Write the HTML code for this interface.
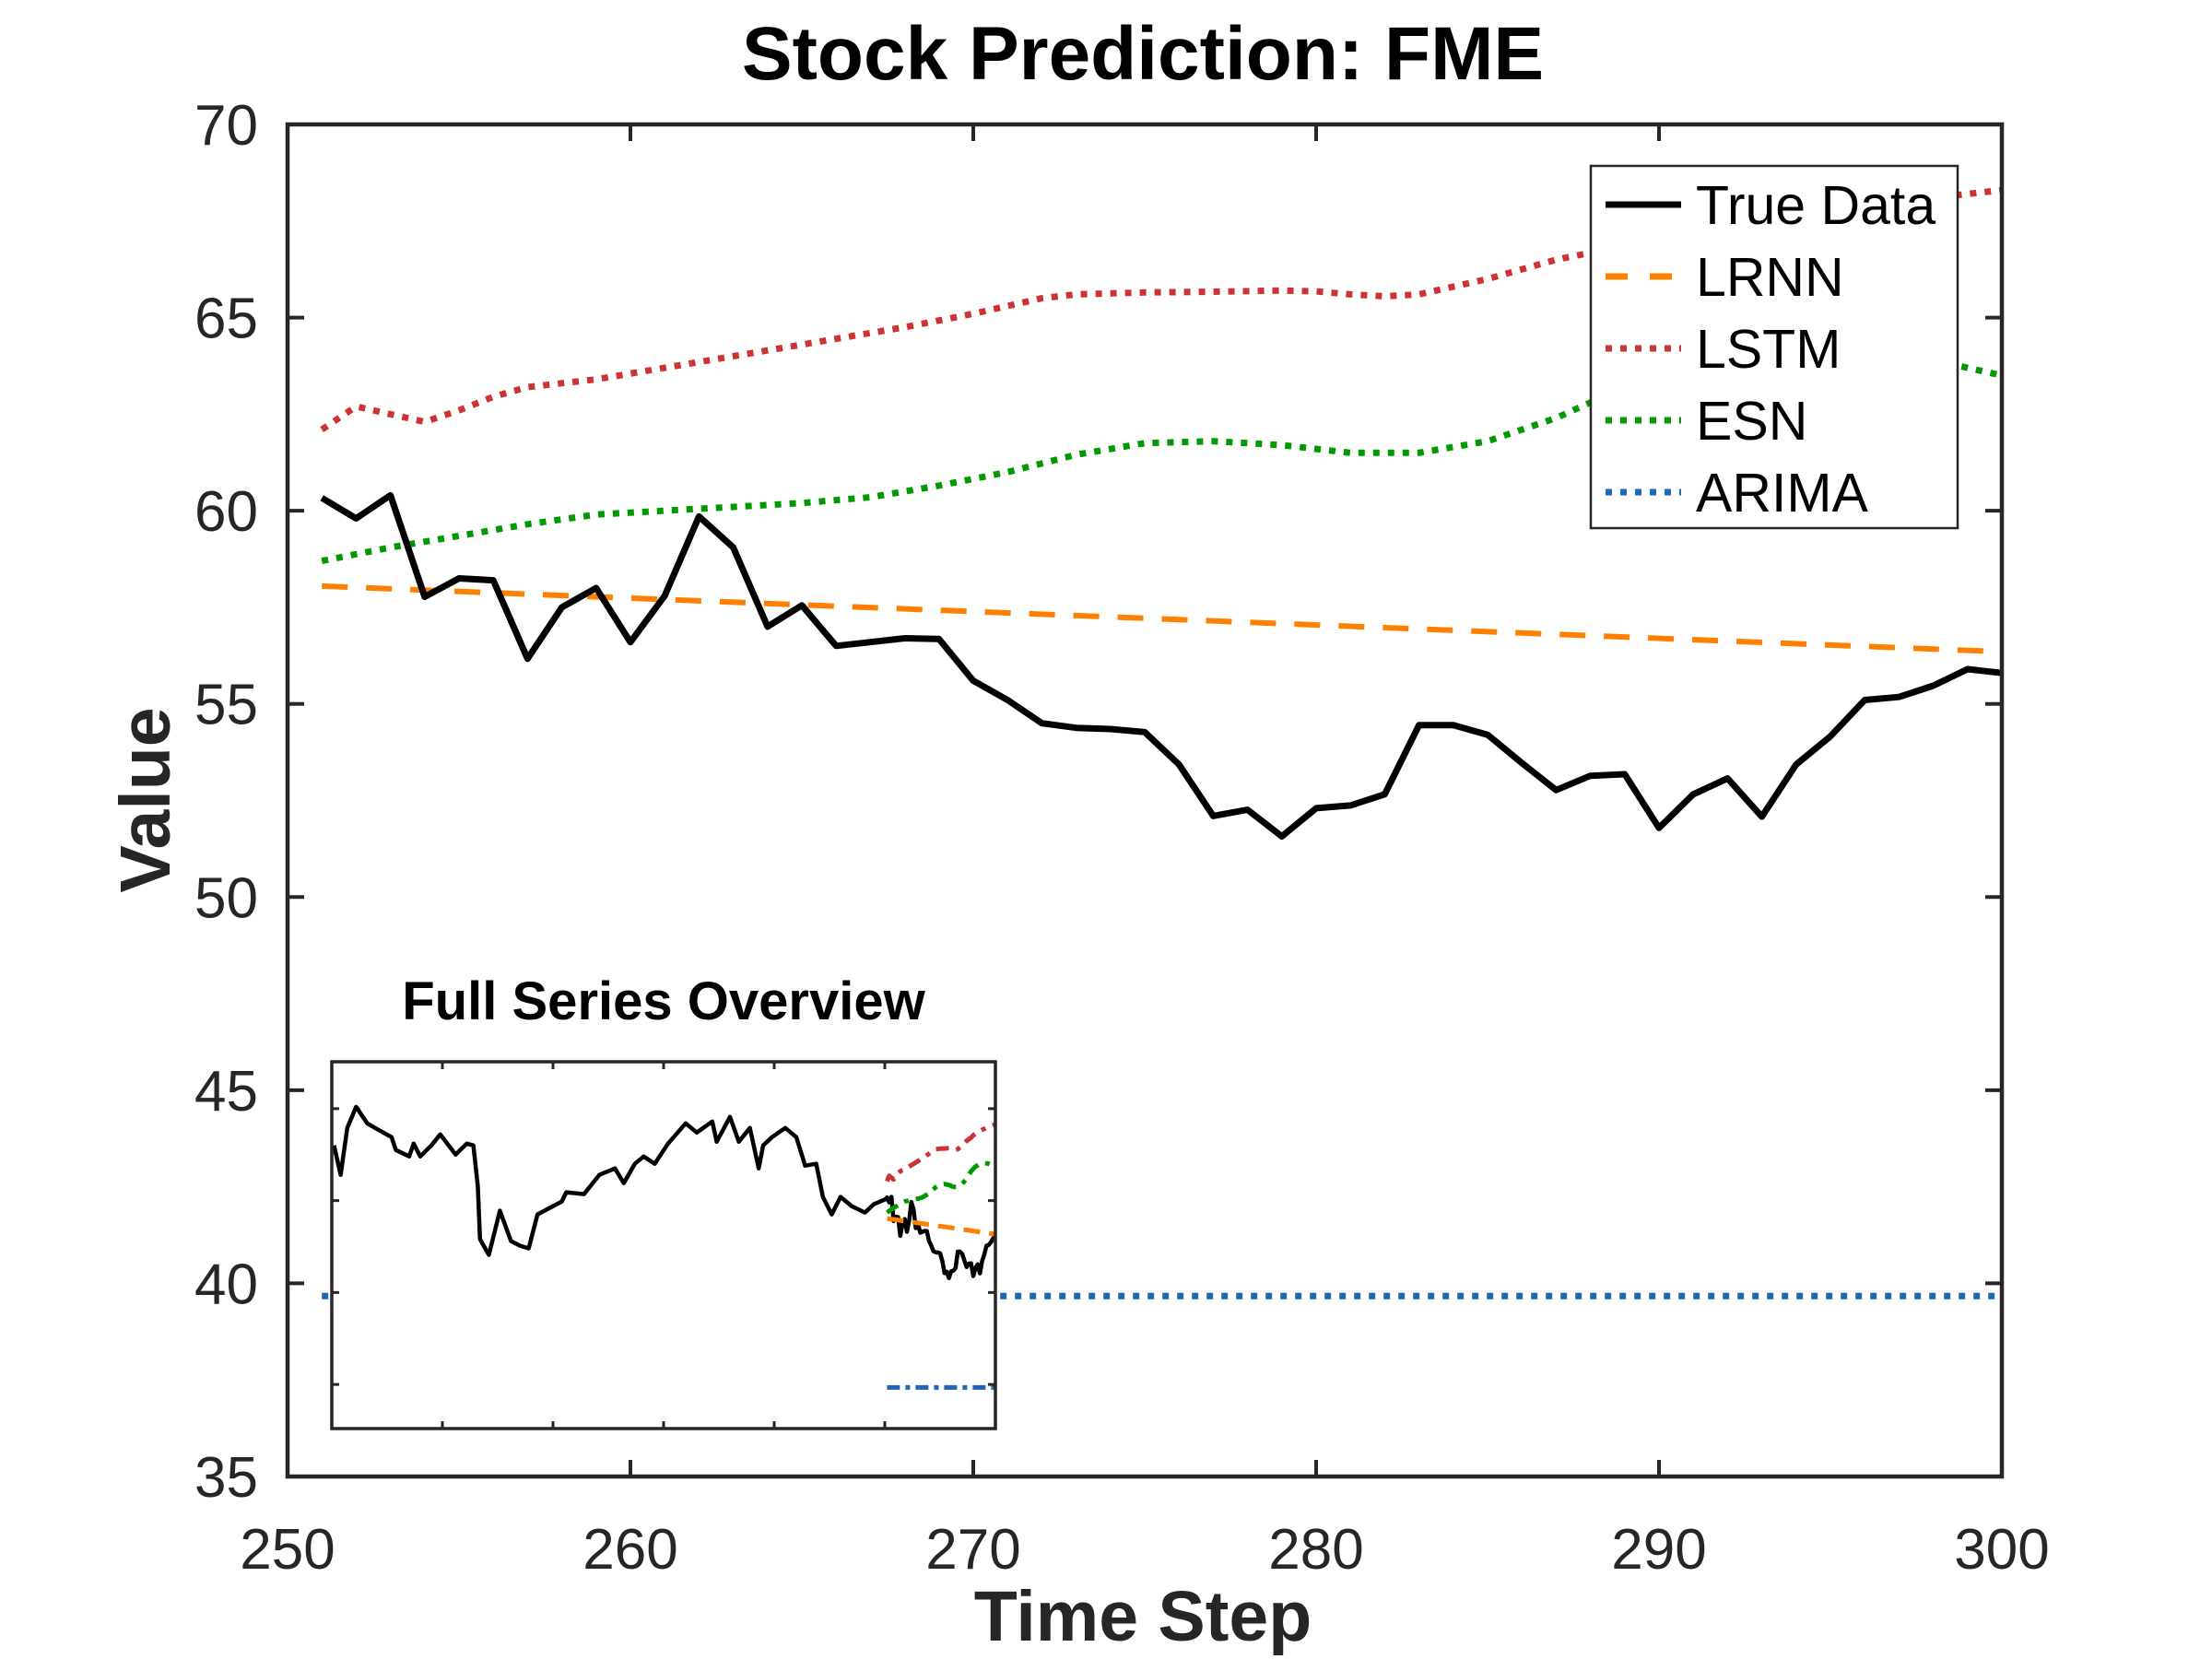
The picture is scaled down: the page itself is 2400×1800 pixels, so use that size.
<!DOCTYPE html>
<html><head><meta charset="utf-8"><style>
html,body{margin:0;padding:0;background:#fff;}
svg{display:block;font-family:"Liberation Sans",Arial,sans-serif;}
</style></head><body>
<svg id="chart" width="2400" height="1800" viewBox="0 0 2400 1800" xmlns="http://www.w3.org/2000/svg">
<rect width="2400" height="1800" fill="#fff"/>
<g id="main"></g>
</svg>
<script>
// ---- data ----
const trueX = [251,252,253,254,255,256,257,258,259,260,261,262,263,264,265,266,267,268,269,270,271,272,273,274,275,276,277,278,279,280,281,282,283,284,285,286,287,288,289,290,291,292,293,294,295,296,297,298,299,300];
const trueVals = [60.33,59.8,60.4,57.77,58.25,58.2,56.17,57.5,58.0,56.6,57.8,59.85,59.05,57.0,57.55,56.5,56.6,56.7,56.68,55.6,55.1,54.5,54.38,54.35,54.27,53.43,52.1,52.26,51.57,52.3,52.37,52.66,54.45,54.45,54.2,53.47,52.77,53.14,53.18,51.79,52.66,53.07,52.08,53.43,54.16,55.1,55.18,55.47,55.9,55.8];
const lrnnX = [251,300];
const lrnnVals = [58.05,56.35];
const lstmX = [251,252,253,254,255,256,257,258,259,260,262,264,266,268,270,272,273,275,277,279,280,281,282,283,285,287,289,290,292,294,296,298,300];
const lstmVals = [62.1,62.7,62.5,62.3,62.6,62.95,63.2,63.3,63.4,63.55,63.85,64.15,64.45,64.75,65.1,65.5,65.6,65.65,65.67,65.7,65.68,65.6,65.55,65.6,66.0,66.5,66.85,67.1,67.4,67.7,67.9,68.1,68.3];
const esnX = [251,253,255,257,259,261,263,265,267,269,271,273,275,277,279,281,283,285,287,289,291,293,295,297,298,300];
const esnVals = [58.7,59.05,59.35,59.65,59.9,60.0,60.1,60.2,60.35,60.65,61.0,61.45,61.75,61.8,61.7,61.5,61.5,61.8,62.4,63.2,63.7,64.0,64.1,64.0,63.9,63.5];
const arimaX = [251,300];
const arimaVals = [39.67,39.67];
// full history (overview inset)
const histX = [1,4,7,11,16,21,27,29,35,37,40,45,49,56,61,64,66,67,71,76,81,85,89,93,104,106,114,121,128,132,137,141,146,152,160,165,172,174,180,184,189,193,195,199,205,210,214,219,222,226,230,235,241,245,250];
const histVals = [66.0,62.8,67.9,70.2,68.4,67.7,66.9,65.5,64.8,66.2,64.8,66.0,67.2,65.0,66.2,66.0,61.6,55.8,54.1,58.9,55.6,55.1,54.8,58.5,59.9,60.9,60.7,62.8,63.5,61.9,64.0,64.8,64.0,66.2,68.4,67.4,68.6,66.4,69.1,66.4,67.9,63.5,66.0,66.9,67.9,66.9,63.8,64.0,60.4,58.5,60.4,59.4,58.7,59.6,60.1];
const xTicks = [250,260,270,280,290,300];
const yTicks = [35,40,45,50,55,60,65,70];
const insetXTicks = [50,100,150,200,250];
const insetYTicks = [40,50,60,70];

// ---- axes ----
const L=312,R=2172,T=135,B=1602;
const xMin=250,xMax=300,yMin=35,yMax=70;
const sx=v=>L+(v-xMin)/(xMax-xMin)*(R-L);
const sy=v=>B-(v-yMin)/(yMax-yMin)*(B-T);
const IL=360,IR=1080,IT=1152,IB=1550;
const ixMin=0,ixMax=300,iyMin=35.2,iyMax=75.1;
const isx=v=>IL+(v-ixMin)/(ixMax-ixMin)*(IR-IL);
const isy=v=>IB-(v-iyMin)/(iyMax-iyMin)*(IB-IT);

const NS="http://www.w3.org/2000/svg";
const root=document.getElementById('main');
function mk(tag,attrs,parent){const e=document.createElementNS(NS,tag);for(const k in attrs)e.setAttribute(k,attrs[k]);(parent||root).appendChild(e);return e;}
function pts(xs,ys,fx,fy){return xs.map((x,i)=>fx(x).toFixed(1)+','+fy(ys[i]).toFixed(1)).join(' ');}

const AX='#262626';
const defs=mk('defs',{});
const cp=mk('clipPath',{id:'mainclip'},defs);
mk('rect',{x:L,y:T,width:R-L,height:B-T},cp);

const series=[
 {name:'arima-line',xs:arimaX,ys:arimaVals,color:'#1f66b5',dash:'7 9',w:7},
 {name:'esn-line',xs:esnX,ys:esnVals,color:'#009900',dash:'7 9',w:7},
 {name:'lstm-line',xs:lstmX,ys:lstmVals,color:'#cc3333',dash:'7 9',w:7},
 {name:'lrnn-line',xs:lrnnX,ys:lrnnVals,color:'#ff8000',dash:'28 20',w:6},
 {name:'true-data-line',xs:trueX,ys:trueVals,color:'#000',dash:'',w:7}
];
const g=mk('g',{'clip-path':'url(#mainclip)'});
series.forEach(s=>{
 const p=mk('polyline',{points:pts(s.xs,s.ys,sx,sy),fill:'none',stroke:s.color,'stroke-width':s.w,'stroke-dasharray':s.dash,'stroke-linejoin':'round'},g);
 
 
});

const box=mk('rect',{x:L,y:T,width:R-L,height:B-T,fill:'none',stroke:AX,'stroke-width':4.5});


xTicks.forEach(v=>{
 const x=sx(v);
 mk('line',{x1:x,y1:B,x2:x,y2:B-18,stroke:AX,'stroke-width':4});
 mk('line',{x1:x,y1:T,x2:x,y2:T+18,stroke:AX,'stroke-width':4});
 const t=mk('text',{x:x,y:1702,'text-anchor':'middle','font-size':62,fill:AX});
 t.textContent=v;
 
 
});
yTicks.forEach(v=>{
 const y=sy(v);
 mk('line',{x1:L,y1:y,x2:L+18,y2:y,stroke:AX,'stroke-width':4});
 mk('line',{x1:R,y1:y,x2:R-18,y2:y,stroke:AX,'stroke-width':4});
 const t=mk('text',{x:280,y:y+22,'text-anchor':'end','font-size':62,fill:AX});
 t.textContent=v;
 
 
});

// inset
const ig=mk('g',{});


mk('rect',{x:IL,y:IT,width:IR-IL,height:IB-IT,fill:'#fff'},ig);
const icp=mk('clipPath',{id:'insetclip'},defs);
mk('rect',{x:IL,y:IT,width:IR-IL,height:IB-IT},icp);
const ig2=mk('g',{'clip-path':'url(#insetclip)'},ig);
const hx=histX.concat(trueX), hv=histVals.concat(trueVals);
const insetSeries=[
 {name:'inset-true-data',xs:hx,ys:hv,color:'#000',dash:'',w:4.5},
 {name:'inset-lrnn',xs:lrnnX,ys:lrnnVals,color:'#ff8000',dash:'18 10',w:5},
 {name:'inset-lstm',xs:lstmX,ys:lstmVals,color:'#cc3333',dash:'14 8 5 8',w:5},
 {name:'inset-esn',xs:esnX,ys:esnVals,color:'#009900',dash:'14 8 5 8',w:5},
 {name:'inset-arima',xs:arimaX,ys:arimaVals,color:'#1f66b5',dash:'14 6 5 6',w:5}
];
insetSeries.forEach(s=>{
 const p=mk('polyline',{points:pts(s.xs,s.ys,isx,isy),fill:'none',stroke:s.color,'stroke-width':s.w,'stroke-dasharray':s.dash,'stroke-linejoin':'round'},ig2);
 
 
});
mk('rect',{x:IL,y:IT,width:IR-IL,height:IB-IT,fill:'none',stroke:AX,'stroke-width':3.5},ig);
insetXTicks.forEach(v=>{const x=isx(v);
 mk('line',{x1:x,y1:IB,x2:x,y2:IB-8,stroke:AX,'stroke-width':3},ig);
 mk('line',{x1:x,y1:IT,x2:x,y2:IT+8,stroke:AX,'stroke-width':3},ig);});
insetYTicks.forEach(v=>{const y=isy(v);
 mk('line',{x1:IL,y1:y,x2:IL+8,y2:y,stroke:AX,'stroke-width':3},ig);
 mk('line',{x1:IR,y1:y,x2:IR-8,y2:y,stroke:AX,'stroke-width':3},ig);});
const it=mk('text',{x:720,y:1106,'text-anchor':'middle','font-size':58,'font-weight':'bold',fill:'#000'},ig);
it.textContent='Full Series Overview';



// legend
const lg=mk('g',{});


mk('rect',{x:1726,y:180,width:398,height:393,fill:'#fff',stroke:'#262626','stroke-width':2.5},lg);
const legNames=['True Data','LRNN','LSTM','ESN','ARIMA'];
const legStyles=[['#000','',7],['#ff8000','24 24',7],['#cc3333','7 9',7],['#009900','7 9',7],['#1f66b5','7 9',7]];
legNames.forEach((n,i)=>{
 const y=222+i*78;
 const e=mk('g',{},lg);
 
 
 mk('line',{x1:1742,y1:y,x2:1824,y2:y,stroke:legStyles[i][0],'stroke-width':legStyles[i][2],'stroke-dasharray':legStyles[i][1]},e);
 const t=mk('text',{x:1840,y:y+21,'font-size':59,fill:'#000'},e);
 t.textContent=n;
});

// titles
const ti=mk('text',{x:1240,y:86,'text-anchor':'middle','font-size':82,'font-weight':'bold',fill:'#000'});
ti.textContent='Stock Prediction: FME';


const xl=mk('text',{x:1240,y:1780,'text-anchor':'middle','font-size':77,'font-weight':'bold',fill:AX});
xl.textContent='Time Step';


const yl=mk('text',{x:0,y:0,'text-anchor':'middle','font-size':77,'font-weight':'bold',fill:AX,transform:'translate(184,868) rotate(-90)'});
yl.textContent='Value';


</script>
</body></html>
